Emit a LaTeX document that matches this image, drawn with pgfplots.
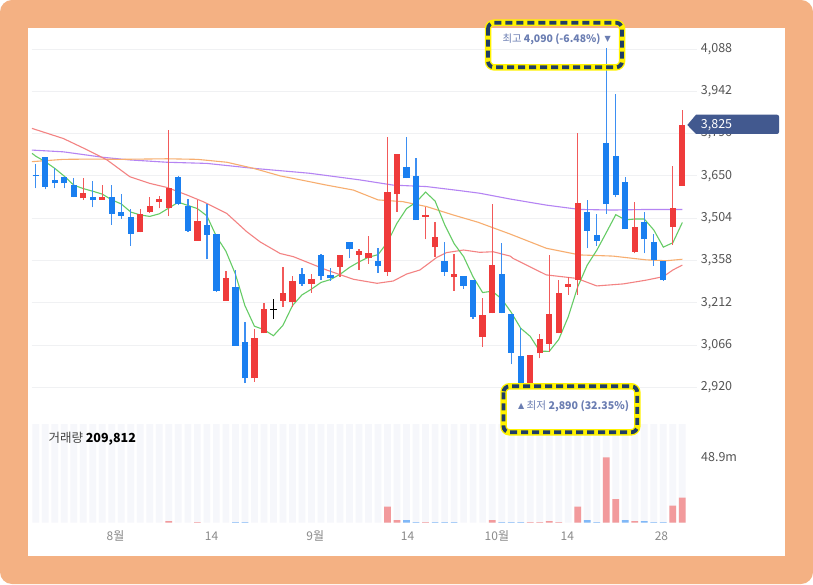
\documentclass[border=0pt]{standalone}
\usepackage{fontspec}
\setmainfont{Noto Sans CJK KR}
\newfontfamily\dejavu{DejaVu Sans}
\usepackage{pgfplots}
\usepackage{pgfplotstable}
\pgfplotsset{compat=1.18}
\definecolor{orangebg}{HTML}{F4B183}
\definecolor{candred}{HTML}{EF3B3B}
\definecolor{wickred}{HTML}{F25A5A}
\definecolor{candblue}{HTML}{1A7FF0}
\definecolor{wickblue}{HTML}{3D8FF2}
\definecolor{volred}{HTML}{F29A9C}
\definecolor{volblue}{HTML}{80B8F7}
\definecolor{stripe}{HTML}{F6F7FB}
\definecolor{gridc}{HTML}{F0F1F3}
\definecolor{tickc}{HTML}{555555}
\definecolor{xtickc}{HTML}{8A8A8A}
\definecolor{boxtext}{HTML}{6A7DB2}
\definecolor{navy}{HTML}{1F3D66}
\definecolor{tagc}{HTML}{42598F}
\definecolor{maA}{HTML}{66CC66}
\definecolor{maB}{HTML}{F38383}
\definecolor{maC}{HTML}{F7AE70}
\definecolor{maD}{HTML}{B584F3}

\pgfplotstableread{
i o h l c
5 3572 3641 3567 3592
7 3567 3617 3567 3576
11 3455 3534 3455 3517
12 3526 3576 3521 3546
13 3559 3582 3538 3570
14 3538 3808 3511 3609
17 3426 3567 3426 3494
20 3219 3322 3219 3296
23 2951 3120 2940 3091
24 3106 3210 3106 3192
26 3219 3337 3198 3247
27 3216 3305 3198 3288
29 3277 3311 3247 3293
32 3337 3377 3302 3377
34 3377 3396 3325 3391
35 3365 3442 3346 3385
37 3319 3783 3305 3593
38 3587 3725 3526 3725
41 3509 3541 3431 3514
42 3403 3491 3371 3438
44 3300 3380 3254 3311
47 3095 3229 3060 3170
48 3175 3552 3175 3342
52 2899 3032 2899 3032
53 3037 3104 3020 3087
54 3070 3377 3043 3172
55 3106 3290 3106 3247
56 3267 3300 3239 3277
57 3290 3797 3239 3555
63 3388 3561 3382 3475
67 3475 3684 3411 3538
68 3616 3877 3616 3825
}\redtab

\pgfplotstableread{
i o h l c
0 3654 3691 3607 3648
1 3714 3716 3603 3612
2 3636 3676 3607 3624
3 3645 3645 3607 3624
4 3618 3641 3576 3578
6 3576 3632 3541 3566
8 3576 3617 3482 3520
9 3524 3586 3502 3512
10 3509 3534 3408 3451
15 3645 3650 3548 3552
16 3546 3570 3457 3461
18 3482 3552 3362 3446
19 3448 3448 3250 3253
21 3265 3325 3064 3064
22 3075 3145 2934 2951
28 3311 3331 3271 3277
30 3377 3380 3290 3305
31 3308 3331 3288 3296
33 3420 3420 3365 3396
36 3356 3400 3316 3340
39 3679 3783 3641 3641
40 3649 3710 3497 3497
43 3356 3420 3305 3319
45 3304 3304 3259 3271
46 3290 3290 3155 3164
49 3311 3417 3175 3178
50 3173 3173 2999 3040
51 3028 3124 2890 2890
58 3524 3567 3400 3461
59 3446 3518 3409 3426
60 3762 4090 3520 3552
61 3718 3932 3576 3584
62 3630 3647 3466 3466
64 3490 3526 3382 3431
65 3420 3451 3340 3359
66 3356 3356 3288 3290
}\bluetab

\pgfplotstableread{
i o h l c
25 3188.5 3225 3155 3191.5
}\dojitab

\begin{document}
\begin{tikzpicture}
\useasboundingbox (0,0) rectangle (813pt,584pt);
\fill[white] (0,0) rectangle (813pt,584pt);
\fill[orangebg, rounded corners=12pt] (0,0) rectangle (813pt,584pt);
\fill[white] (28pt,28.3pt) rectangle (785pt,556pt);

\begin{axis}[
  at={(31.9pt,179pt)}, anchor=south west,
  width=664.7pt, height=375pt, scale only axis,
  xmin=-0.4, xmax=69.5, ymin=2858.9, ymax=4153.6,
  axis line style={draw=none}, tick style={draw=none},
  xtick=\empty,
  ytick={2920,3066,3212,3358,3504,3650,3796,3942,4088},
  yticklabels={{2,920},{3,066},{3,212},{3,358},{3,504},{3,650},{3,796},{3,942},{4,088}},
  yticklabel pos=right,
  yticklabel style={anchor=west, inner sep=0pt, xshift=4.1pt, font=\fontsize{12.5}{14}\selectfont, text=tickc},
  ymajorgrids, grid style={draw=gridc, line width=0.8pt},
  /pgf/number format/assume math mode=true,
]
% moving averages
\addplot[maD, line width=1.1pt, mark=none] coordinates {(-0.4,3739) (2.9,3733) (7.1,3714) (9.9,3705) (13.8,3697) (18,3693) (22.9,3676) (28.8,3659) (34.1,3636) (37.6,3618) (41.1,3613) (44.6,3599) (46.7,3590) (49.9,3570) (53.7,3549) (57.2,3534) (60.7,3532) (64.2,3534) (68,3534)};
\addplot[maC, line width=1.1pt, mark=none] coordinates {(-0.4,3699) (2.9,3707) (6,3708) (8.8,3707) (13.8,3709) (17,3707) (20.1,3697) (22.9,3676) (25.7,3650) (27.1,3641) (30.6,3618) (33.4,3601) (36,3567) (38.6,3561) (41.1,3544) (43.9,3515) (46.5,3490) (49.9,3449) (53.7,3400) (57.2,3377) (60.7,3373) (64.2,3360) (66.3,3357) (68,3362)};
\addplot[maB, line width=1.1pt, mark=none] coordinates {(-0.4,3814) (2.9,3779) (5.4,3740) (7.5,3705) (9.9,3647) (12,3624) (13.8,3610) (15.9,3584) (17.6,3561) (20.1,3520) (22.2,3457) (23.6,3422) (25.7,3382) (27.1,3371) (30.6,3325) (33.4,3293) (35.9,3279) (37.6,3287) (39,3311) (40.4,3325) (42.2,3369) (43.2,3385) (45,3394) (46.7,3386) (48.1,3388) (49.9,3373) (50.2,3365) (53.7,3308) (56.9,3296) (59,3270) (61.8,3277) (64.2,3290) (66,3302) (67,3325) (68,3342)};
\addplot[maA, line width=1.1pt, mark=none] coordinates {(-0.4,3728) (0,3718) (1,3699) (2,3676) (3,3649) (4,3618) (5,3606) (6,3597) (7,3587) (8,3567) (9,3553) (10,3525) (11,3515) (12,3510) (13,3519) (14,3539) (15,3559) (16,3548) (17,3537) (18,3512) (19,3441) (20,3390) (21,3311) (22,3202) (23,3131) (24,3119) (25,3098) (26,3134) (27,3202) (28,3239) (29,3259) (30,3282) (31,3292) (32,3310) (33,3334) (34,3353) (35,3369) (36,3378) (37,3421) (38,3487) (39,3537) (40,3559) (41,3594) (42,3563) (43,3482) (44,3416) (45,3371) (46,3301) (47,3247) (48,3252) (49,3225) (50,3179) (51,3124) (52,3096) (53,3045) (54,3044) (55,3085) (56,3163) (57,3267) (58,3342) (59,3393) (60,3454) (61,3516) (62,3498) (63,3501) (64,3501) (65,3463) (66,3404) (67,3419) (68,3489)};
% wicks
\addplot[draw=none, mark=none, error bars/.cd, y dir=plus, y explicit, error mark=none, error bar style={draw=wickred, line width=1.3pt}]
  table[x=i, y=l, y error plus expr=\thisrow{h}-\thisrow{l}] {\redtab};
\addplot[draw=none, mark=none, error bars/.cd, y dir=plus, y explicit, error mark=none, error bar style={draw=wickblue, line width=1.3pt}]
  table[x=i, y=l, y error plus expr=\thisrow{h}-\thisrow{l}] {\bluetab};
\addplot[draw=none, mark=none, error bars/.cd, y dir=plus, y explicit, error mark=none, error bar style={draw=black, line width=1.1pt}]
  table[x=i, y=l, y error plus expr=\thisrow{h}-\thisrow{l}] {\dojitab};
% bodies
\addplot[draw=none, mark=none, error bars/.cd, y dir=plus, y explicit, error mark=none, error bar style={draw=candred, line width=6.3pt}]
  table[x=i, y=o, y error plus expr=\thisrow{c}-\thisrow{o}] {\redtab};
\addplot[draw=none, mark=none, error bars/.cd, y dir=plus, y explicit, error mark=none, error bar style={draw=candblue, line width=6.3pt}]
  table[x=i, y=c, y error plus expr=\thisrow{o}-\thisrow{c}] {\bluetab};
\addplot[draw=none, mark=none, error bars/.cd, y dir=plus, y explicit, error mark=none, error bar style={draw=black, line width=6.3pt}]
  table[x=i, y=o, y error plus expr=\thisrow{c}-\thisrow{o}] {\dojitab};
\end{axis}

\begin{axis}[
  at={(31.9pt,61.3pt)}, anchor=south west,
  width=664.7pt, height=98.7pt, scale only axis,
  xmin=-0.4, xmax=69.5, ymin=0, ymax=73.9,
  axis line style={draw=none}, tick style={draw=none},
  xtick={8.4,18.5,29.4,39.1,48.5,55.9,65.8},
  xticklabels={8월,14,9월,14,10월,14,28},
  xticklabel style={anchor=center, inner sep=0pt, yshift=-13.3pt, font=\fontsize{12}{14}\selectfont, text=xtickc},
  ytick={48.9}, yticklabels={48.9m},
  yticklabel pos=right,
  yticklabel style={anchor=west, inner sep=0pt, xshift=4.4pt, font=\fontsize{12.5}{14}\selectfont, text=tickc},
  /pgf/number format/assume math mode=true,
]
\addplot[ybar, bar width=6.7pt, bar shift=0pt, fill=stripe, draw=none] coordinates {(0,73.9) (1,73.9) (2,73.9) (3,73.9) (4,73.9) (5,73.9) (6,73.9) (7,73.9) (8,73.9) (9,73.9) (10,73.9) (11,73.9) (12,73.9) (13,73.9) (14,73.9) (15,73.9) (16,73.9) (17,73.9) (18,73.9) (19,73.9) (20,73.9) (21,73.9) (22,73.9) (23,73.9) (24,73.9) (25,73.9) (26,73.9) (27,73.9) (28,73.9) (29,73.9) (30,73.9) (31,73.9) (32,73.9) (33,73.9) (34,73.9) (35,73.9) (36,73.9) (37,73.9) (38,73.9) (39,73.9) (40,73.9) (41,73.9) (42,73.9) (43,73.9) (44,73.9) (45,73.9) (46,73.9) (47,73.9) (48,73.9) (49,73.9) (50,73.9) (51,73.9) (52,73.9) (53,73.9) (54,73.9) (55,73.9) (56,73.9) (57,73.9) (58,73.9) (59,73.9) (60,73.9) (61,73.9) (62,73.9) (63,73.9) (64,73.9) (65,73.9) (66,73.9) (67,73.9) (68,73.9)};
\addplot[ybar, bar width=6.7pt, bar shift=0pt, fill=volred, draw=none] coordinates {(14,1.25) (17,0.5) (37,12) (38,2) (41,0.5) (48,2) (52,0.4) (53,0.4) (54,1.25) (55,0.5) (57,12) (60,48.9) (61,17.7) (63,1.25) (67,12.7) (68,18.7)};
\addplot[ybar, bar width=6.7pt, bar shift=0pt, fill=volblue, draw=none] coordinates {(21,0.5) (22,0.5) (39,2) (40,0.5) (42,0.5) (43,0.5) (44,0.5) (49,0.5) (50,0.5) (51,0.5) (58,2) (59,0.5) (62,2) (64,1.25) (65,0.5) (66,0.5)};
\end{axis}

% volume label
\node[anchor=west, inner sep=0pt, font=\fontsize{12.5}{14}\selectfont] at (48.3pt,145.7pt) {\textcolor{tickc!80!black}{거래량} \textbf{209,812}};

% current price tag
\fill[tagc] (687.3pt,459pt) -- (696pt,469.3pt) [rounded corners=2pt]-- (779pt,469.3pt) -- (779pt,450pt) [sharp corners]-- (696pt,450pt) -- cycle;
\node[anchor=west, inner sep=0pt, text=white, font=\fontsize{12.5}{14}\selectfont] at (700.7pt,459pt) {3,825};

% high box
\draw[yellow, line width=6.5pt, rounded corners=6pt] (488pt,561.3pt) rectangle (622pt,516.7pt);
\draw[navy, line width=3.8pt, rounded corners=6pt, dash pattern=on 7pt off 4pt] (488pt,561.3pt) rectangle (622pt,516.7pt);
\node[anchor=west, inner sep=0pt, text=boxtext, font=\fontsize{10.4}{12}\selectfont] at (502.3pt,544.7pt) {최고 \textbf{4,090 (-6.48\%)}};
\node[inner sep=0pt, text=boxtext, font=\dejavu\fontsize{8}{9}\selectfont] at (607.8pt,544.7pt) {▼};

% low box
\fill[white, rounded corners=6pt] (503.5pt,197.7pt) rectangle (637.3pt,151.7pt);
\draw[yellow, line width=6.5pt, rounded corners=6pt] (503.5pt,197.7pt) rectangle (637.3pt,151.7pt);
\draw[navy, line width=3.8pt, rounded corners=6pt, dash pattern=on 7pt off 4pt] (503.5pt,197.7pt) rectangle (637.3pt,151.7pt);
\node[inner sep=0pt, text=boxtext, font=\dejavu\fontsize{8}{9}\selectfont] at (521.2pt,177.3pt) {▲};
\node[anchor=west, inner sep=0pt, text=boxtext, font=\fontsize{10.6}{12}\selectfont] at (526.5pt,177.3pt) {최저 \textbf{2,890 (32.35\%)}};
\end{tikzpicture}
\end{document}
